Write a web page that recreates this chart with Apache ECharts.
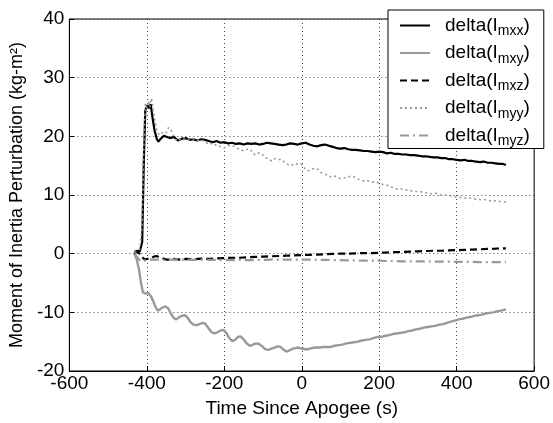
<!DOCTYPE html>
<html>
<head>
<meta charset="utf-8">
<script src="https://cdn.jsdelivr.net/npm/echarts@6/dist/echarts.min.js"></script>
<style>
html,body{margin:0;padding:0;background:#fff;}
#chart{width:553px;height:423px;}
</style>
</head>
<body>
<div id="chart"></div>
<script>
// [time (s), delta moment of inertia (kg-m^2)]
const mxx = [[-432,0.3],[-425,0.5],[-418,0.4],[-412,2],[-408,15],[-404,24.5],[-398,25.3],[-394,24.8],[-390,25.5],[-386,23.5],
[-380,21],[-374,19.5],[-370,19.1],[-364,19.6],[-356,20.1],[-348,19.9],[-340,19.7],[-330,19.9],[-320,19.3],[-310,19.6],
[-300,19.7],[-290,19.4],[-280,19.5],[-270,19.3],[-260,19.5],[-250,19.4],[-240,19.2],[-230,19.0],[-220,19.2],[-210,18.9],
[-200,19.0],[-190,18.8],[-180,18.9],[-170,18.7],[-160,18.8],[-150,18.6],[-140,18.8],[-130,18.7],[-120,18.8],[-110,18.6],
[-100,18.7],[-90,18.9],[-80,18.8],[-70,18.7],[-60,18.6],[-50,18.5],[-40,18.6],[-30,18.8],[-20,18.7],[-10,18.6],
[0,18.8],[10,18.9],[20,18.6],[30,18.4],[40,18.3],[50,18.5],[60,18.6],[70,18.4],[80,18.2],[90,18.0],
[100,17.9],[110,18.0],[120,17.8],[130,17.7],[140,17.7],[150,17.6],[160,17.5],[170,17.5],[180,17.4],[190,17.3],
[200,17.4],[210,17.3],[220,17.1],[230,17.2],[240,17.0],[250,17.0],[260,16.9],[270,16.9],[280,16.8],[290,16.8],
[300,16.7],[310,16.6],[320,16.6],[330,16.5],[340,16.4],[350,16.4],[360,16.3],[370,16.3],[380,16.1],[390,16.1],
[400,16.0],[410,15.9],[420,16.0],[430,15.8],[440,15.8],[450,15.7],[460,15.6],[470,15.7],[480,15.5],[490,15.5],
[500,15.4],[510,15.3],[520,15.3],[527,15.1]];

const mxy = [[-432,0],[-426,-1],[-420,-2.8],[-415,-5],[-410,-6.6],[-403,-6.8],[-396,-6.7],[-390,-7.2],[-384,-8.0],[-378,-9.0],
[-372,-9.7],[-366,-9.5],[-360,-9.2],[-352,-9.0],[-345,-9.3],[-338,-10.2],[-330,-11.0],[-324,-11.2],[-318,-10.9],[-310,-10.6],
[-302,-10.5],[-296,-10.8],[-288,-11.6],[-280,-12.1],[-272,-12.2],[-264,-12.0],[-256,-11.8],[-250,-11.9],[-242,-12.6],[-234,-13.3],
[-226,-13.6],[-218,-13.4],[-210,-13.1],[-202,-13.0],[-195,-13.5],[-188,-14.3],[-180,-14.9],[-172,-14.7],[-165,-14.2],[-158,-14.1],
[-150,-14.6],[-142,-15.3],[-134,-15.7],[-126,-15.5],[-118,-15.3],[-110,-15.4],[-102,-15.8],[-94,-16.3],[-86,-16.4],[-78,-16.2],
[-70,-16.0],[-62,-15.8],[-55,-15.9],[-48,-16.3],[-40,-16.7],[-32,-16.5],[-24,-16.2],[-16,-16.1],[-8,-16.0],[0,-16.2],
[8,-16.3],[16,-16.3],[25,-16.1],[35,-16.0],[45,-16.0],[55,-15.9],[65,-15.9],[75,-15.9],[85,-15.7],[95,-15.6],
[105,-15.5],[115,-15.3],[125,-15.2],[135,-15.1],[145,-15.0],[155,-14.8],[165,-14.7],[175,-14.6],[185,-14.4],[195,-14.2],
[205,-14.2],[215,-14.0],[225,-13.9],[235,-13.7],[245,-13.6],[255,-13.5],[265,-13.4],[275,-13.2],[285,-13.1],[295,-12.9],
[305,-12.8],[315,-12.6],[325,-12.5],[335,-12.4],[345,-12.3],[355,-12.1],[365,-12.0],[375,-11.8],[385,-11.6],[395,-11.4],
[405,-11.2],[415,-11.1],[425,-10.9],[435,-10.8],[445,-10.6],[455,-10.5],[465,-10.4],[475,-10.2],[485,-10.1],[495,-10.0],
[505,-9.8],[515,-9.7],[527,-9.5]];

const mxz = [[-432,0],[-426,0.3],[-420,0.1],[-414,-0.5],[-405,-1.0],[-398,-0.9],[-390,-0.8],[-382,-0.5],[-375,-0.4],[-368,-0.6],
[-360,-0.8],[-350,-1.0],[-340,-1.0],[-330,-0.9],[-320,-1.0],[-300,-0.9],[-280,-0.95],[-260,-0.85],[-240,-0.9],[-220,-0.8],
[-200,-0.75],[-180,-0.7],[-160,-0.7],[-140,-0.6],[-120,-0.55],[-100,-0.5],[-80,-0.45],[-60,-0.4],[-40,-0.35],[-20,-0.3],
[0,-0.25],[20,-0.2],[40,-0.15],[60,-0.1],[80,-0.05],[100,0.0],[120,0.0],[140,0.05],[160,0.1],[180,0.1],
[200,0.15],[220,0.2],[240,0.25],[260,0.3],[280,0.35],[300,0.4],[320,0.45],[340,0.5],[360,0.5],[380,0.55],
[400,0.6],[420,0.65],[440,0.7],[460,0.75],[480,0.8],[500,0.85],[515,0.9],[527,0.9]];

const myy = [[-432,0.2],[-425,0.4],[-418,0.8],[-412,5],[-408,18],[-404,25.6],[-400,24.8],[-396,26.0],[-392,25.0],[-388,26.5],
[-384,25.0],[-380,23],[-374,21],[-368,20.2],[-362,20.5],[-356,20.8],[-350,20.6],[-344,21.5],[-338,21.2],[-332,20.2],
[-326,19.5],[-319,19.2],[-310,19.8],[-300,19.7],[-290,19.4],[-280,19.6],[-270,19.3],[-260,19.4],[-252,19.2],[-245,18.8],
[-238,19.0],[-230,18.5],[-226,18.3],[-218,18.6],[-210,18.2],[-201,18.0],[-190,18.4],[-180,18.5],[-175,18.5],[-168,18.0],
[-160,17.8],[-150,17.5],[-140,17.8],[-133,17.8],[-125,17.0],[-118,16.8],[-110,17.2],[-103,17.0],[-95,16.4],[-88,16.2],
[-78,15.8],[-70,16.2],[-62,16.0],[-53,16.1],[-45,15.6],[-35,15.2],[-27,15.0],[-18,15.4],[-10,15.2],[-2,15.3],
[7,14.6],[15,14.1],[24,14.3],[33,14.6],[41,14.4],[50,13.8],[58,13.6],[66,13.4],[74,13.1],[83,13.3],
[91,13.0],[100,12.8],[108,12.9],[117,13.0],[125,13.2],[134,13.1],[142,12.8],[150,12.6],[159,12.4],[167,12.5],
[176,12.3],[185,12.2],[193,12.2],[202,11.9],[210,11.8],[219,11.7],[228,11.5],[236,11.2],[245,11.0],[255,11.1],
[265,10.9],[275,10.8],[285,10.7],[295,10.6],[305,10.6],[315,10.4],[327,10.3],[337,10.2],[347,10.3],[357,10.0],
[367,10.0],[380,9.9],[390,9.8],[400,9.6],[412,9.6],[425,9.4],[437,9.5],[450,9.3],[462,9.2],[475,9.2],
[487,9.0],[500,9.0],[512,8.9],[527,8.8]];

const myz = [[-432,0],[-426,-0.5],[-420,-1.0],[-414,-1.3],[-408,-1.2],[-400,-1.1],[-390,-1.0],[-380,-1.0],[-360,-1.05],[-340,-1.0],
[-320,-1.0],[-300,-1.0],[-280,-1.05],[-260,-1.0],[-240,-1.05],[-220,-1.05],[-200,-1.05],[-180,-1.1],[-160,-1.05],[-140,-1.1],
[-120,-1.1],[-100,-1.05],[-80,-1.0],[-60,-1.0],[-40,-1.0],[-20,-1.0],[0,-1.0],[20,-1.0],[40,-1.05],[60,-1.05],
[80,-1.1],[100,-1.1],[120,-1.15],[140,-1.15],[160,-1.2],[180,-1.2],[200,-1.2],[220,-1.25],[240,-1.25],[260,-1.3],
[280,-1.3],[300,-1.3],[320,-1.3],[340,-1.35],[360,-1.35],[380,-1.35],[400,-1.4],[420,-1.4],[440,-1.4],[460,-1.45],
[480,-1.45],[500,-1.45],[527,-1.45]];

const seriesNames = ['mxx','mxy','mxz','myy','myz'];
const xTicks = {min:-600, max:600, interval:200};
const yTicks = {min:-20, max:40, interval:10};

const FONT = '"Liberation Sans", Arial, sans-serif';
const chart = echarts.init(document.getElementById('chart'), null, {renderer:'canvas'});

const gridLine = {show:true, lineStyle:{color:'#444', width:1, type:[1,3]}};

function mk(name, data, color, width, type){
  return {name:name, type:'line', data:data, showSymbol:false, symbol:'none', animation:false,
    lineStyle:{color:color, width:width, type:type}, itemStyle:{color:color}};
}

chart.setOption({
  animation:false,
  backgroundColor:'#fff',
  grid:{left:65, right:16, top:19, bottom:47, show:true, borderColor:'#000', borderWidth:1, backgroundColor:'transparent'},
  xAxis:{type:'value', min:xTicks.min, max:xTicks.max, interval:xTicks.interval,
    name:'Time Since Apogee (s)', nameLocation:'middle', nameGap:28,
    nameTextStyle:{fontFamily:FONT, fontSize:19, color:'#000'},
    axisLine:{show:true, onZero:false, lineStyle:{color:'#000', width:1}},
    axisTick:{show:true, inside:true, length:5, lineStyle:{color:'#000'}},
    axisLabel:{fontFamily:FONT, fontSize:19, color:'#000', margin:3},
    splitLine:gridLine},
  yAxis:{type:'value', min:yTicks.min, max:yTicks.max, interval:yTicks.interval,
    name:'Moment of Inertia Perturbation (kg-m²)', nameLocation:'middle', nameGap:38,
    nameTextStyle:{fontFamily:FONT, fontSize:18, color:'#000'},
    axisLine:{show:true, onZero:false, lineStyle:{color:'#000', width:1}},
    axisTick:{show:true, inside:true, length:5, lineStyle:{color:'#000'}},
    axisLabel:{fontFamily:FONT, fontSize:19, color:'#000', margin:5},
    splitLine:gridLine},
  legend:{show:true, orient:'vertical', left:388, top:10, data:seriesNames,
    backgroundColor:'#fff', borderColor:'#000', borderWidth:1, padding:[6,14,0,11],
    itemWidth:30, itemHeight:14, itemGap:5,
    itemStyle:{opacity:0},
    formatter:function(n){ return 'delta(I{s|' + n + '})'; },
    textStyle:{fontFamily:FONT, fontSize:19, color:'#000', padding:[0,0,0,10],
      rich:{s:{fontFamily:FONT, fontSize:14, color:'#000', padding:[12,0,0,0]}}}},
  series:[
    mk('mxx', mxx, '#000', 2.2, 'solid'),
    mk('mxy', mxy, '#999', 2.4, 'solid'),
    mk('mxz', mxz, '#000', 2.2, [7,4]),
    mk('myy', myy, '#9a9a9a', 1.6, [2,3]),
    mk('myz', myz, '#999', 2.2, [9,4,2,4])
  ]
});
</script>
</body>
</html>
